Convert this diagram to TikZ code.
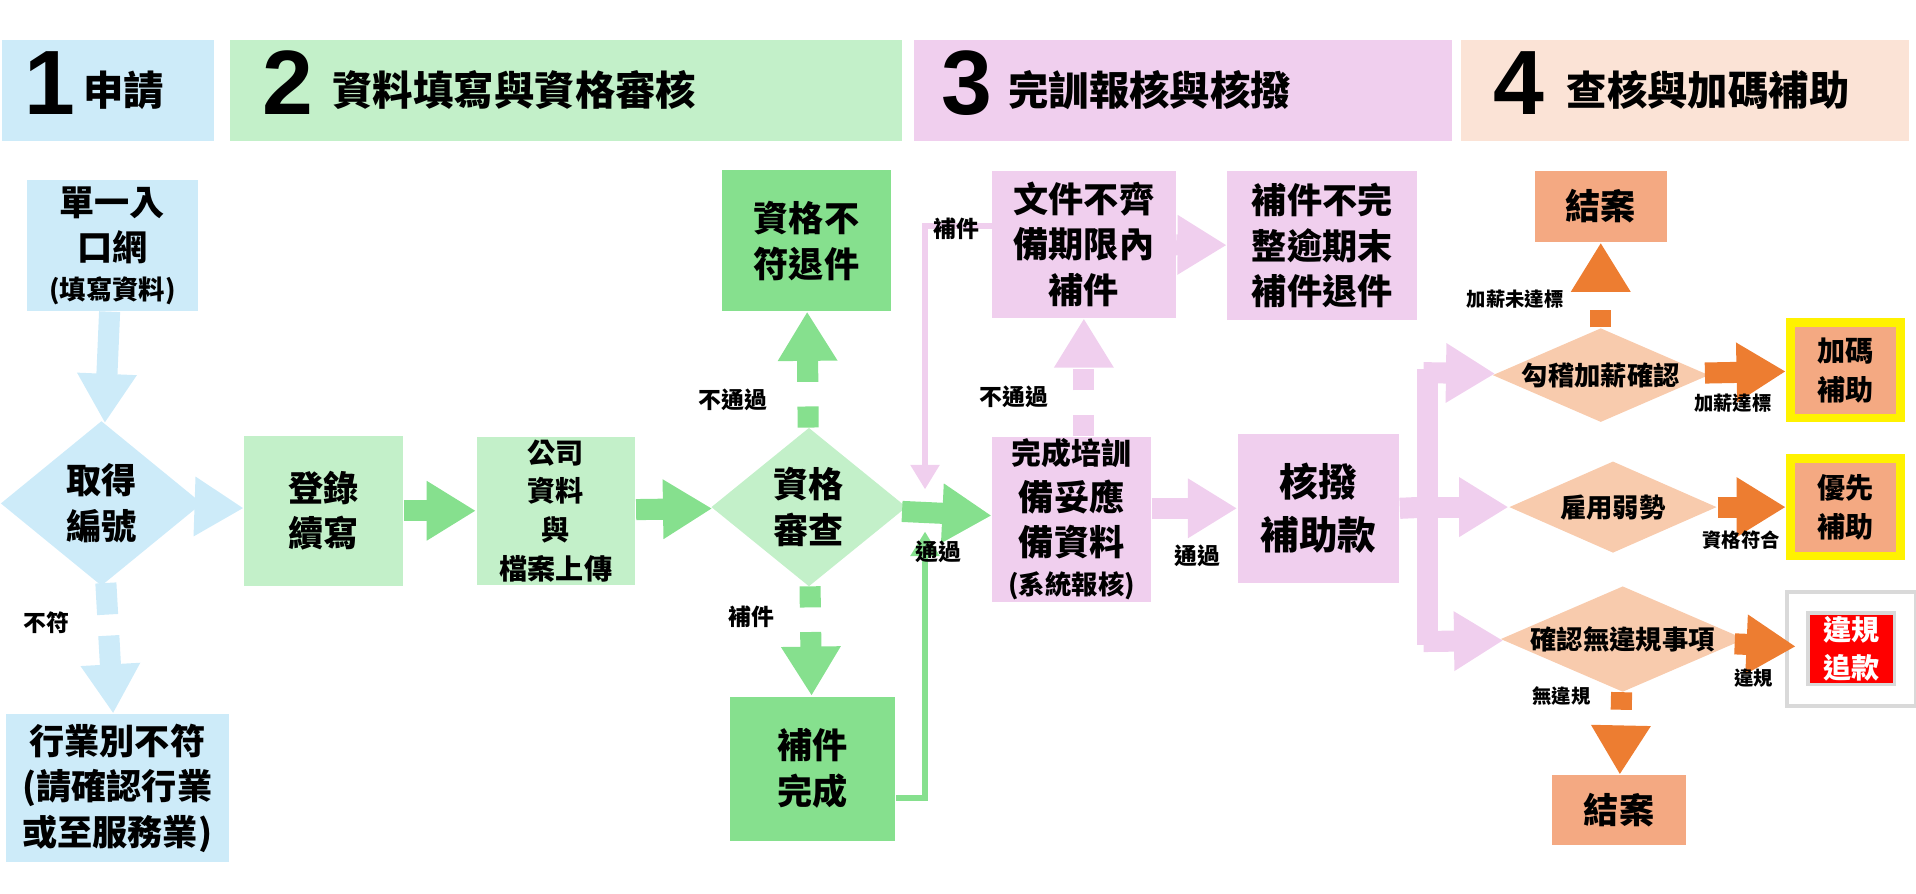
\documentclass[tikz,border=0pt]{standalone}
\usepackage{fontspec}
\setmainfont{Noto Sans CJK TC}
\newfontfamily\numfont{Liberation Sans}
\usetikzlibrary{arrows.meta,shapes.geometric}
\def\pxu{*0.01222cm}
\definecolor{cblue}{HTML}{CDEBF9}
\definecolor{cgreen}{HTML}{C3F0C9}
\definecolor{cdgreen}{HTML}{86E08E}
\definecolor{cpink}{HTML}{F0CFEE}
\definecolor{cpeach}{HTML}{FBE3D6}
\definecolor{csalmon}{HTML}{F4A982}
\definecolor{cdiam}{HTML}{F8CBAD}
\definecolor{corange}{HTML}{ED7D31}
\tikzset{
  box/.style={inner sep=0pt, align=center, font=\bfseries\fontsize{10}{13}\selectfont},
  dia/.style={diamond, aspect=1.2, inner sep=0pt, align=center, font=\bfseries\fontsize{10}{13}\selectfont},
  lbl/.style={font=\bfseries\fontsize{6.5}{8}\selectfont},
  blk/.style={line width=6pt, -{Triangle[length=14pt,width=16pt]}},
  thin/.style={line width=1.6pt, -{Triangle[length=7pt,width=8pt]}},
  hdr/.style={anchor=west, font=\bfseries\fontsize{11.5}{13}\selectfont},
  num/.style={anchor=west, font=\numfont\bfseries\fontsize{26}{26}\selectfont},
}
\begin{document}
\begin{tikzpicture}[x=0.01222cm, y=-0.01222cm]
\useasboundingbox (0,0) rectangle (1568,731);
% headers
\fill[cblue] (2,33) rectangle (175,115);
\fill[cgreen] (188,33) rectangle (738,115);
\fill[cpink] (748,33) rectangle (1188,115);
\fill[cpeach] (1196,33) rectangle (1562,115);
\node[num] (n1) at (10,68) {1};
\node[hdr] (h1) at (58,74) {申請};
\node[num] (n2) at (205,68) {2};
\node[hdr] (h2) at (262,74) {資料填寫與資格審核};
\node[num] (n3) at (760,68) {3};
\node[hdr] (h3) at (815,74) {完訓報核與核撥};
\node[num] (n4) at (1212,68) {4};
\node[hdr] (h4) at (1272,74) {查核與加碼補助};
% stage 1
\node[box, fill=cblue, minimum width=140\pxu, minimum height=107\pxu] (web) at (92,201) {單一入\\口網\\[-2pt]{\fontsize{7.5}{9}\selectfont(填寫資料)}};
\node[dia, fill=cblue, minimum width=165\pxu, minimum height=135\pxu] (num) at (83,412) {取得\\編號};
\node[box, fill=cblue, minimum width=182\pxu, minimum height=121\pxu] (bad) at (96,645) {行業別不符\\(請確認行業\\或至服務業)};
% stage 2
\node[box, fill=cgreen, minimum width=130\pxu, minimum height=123\pxu] (login) at (265,418) {登錄\\續寫};
\node[box, fill=cgreen, minimum width=130\pxu, minimum height=121\pxu, font=\bfseries\fontsize{8}{11}\selectfont] (upl) at (455,418) {公司\\資料\\與\\檔案上傳};
\node[dia, fill=cgreen, minimum width=160\pxu, minimum height=130\pxu] (chk) at (662,415) {資格\\審查};
\node[box, fill=cdgreen, minimum width=139\pxu, minimum height=115\pxu] (rej) at (660,197) {資格不\\符退件};
\node[box, fill=cdgreen, minimum width=135\pxu, minimum height=118\pxu] (fix) at (665,629) {補件\\完成};
% stage 3
\node[box, fill=cpink, minimum width=150\pxu, minimum height=120\pxu] (doc) at (887,200) {文件不齊\\備期限內\\補件};
\node[box, fill=cpink, minimum width=155\pxu, minimum height=122\pxu] (late) at (1082,201) {補件不完\\整逾期末\\補件退件};
\node[box, fill=cpink, minimum width=130\pxu, minimum height=135\pxu] (done) at (877,425) {{\fontsize{8.5}{11}\selectfont 完成培訓}\\備妥應\\備資料\\[-2pt]{\fontsize{7.5}{9}\selectfont(系統報核)}};
\node[box, fill=cpink, minimum width=132\pxu, minimum height=122\pxu, font=\bfseries\fontsize{11}{15}\selectfont] (pay) at (1079,416) {核撥\\補助款};
% stage 4
\node[dia, fill=cdiam, aspect=2.3, minimum width=170\pxu, minimum height=75\pxu, font=\bfseries\fontsize{7.5}{9}\selectfont] (d1) at (1310,307) {勾稽加薪確認};
\node[dia, fill=cdiam, aspect=2.3, minimum width=170\pxu, minimum height=75\pxu, font=\bfseries\fontsize{7.5}{9}\selectfont] (d2) at (1320,415) {雇用弱勢};
\node[dia, fill=cdiam, aspect=2.3, minimum width=200\pxu, minimum height=75\pxu, font=\bfseries\fontsize{7.5}{9}\selectfont] (d3) at (1328,523) {確認無違規事項};
\node[box, fill=csalmon, minimum width=108\pxu, minimum height=58\pxu] (end1) at (1310,169) {結案};
\node[box, fill=csalmon, minimum width=110\pxu, minimum height=57\pxu] (end2) at (1325,663) {結案};
\node[box, fill=csalmon, draw=yellow, line width=2.5pt, minimum width=90\pxu, minimum height=78\pxu, font=\bfseries\fontsize{8}{11}\selectfont] (plus) at (1510,303) {加碼\\補助};
\node[box, fill=csalmon, draw=yellow, line width=2.5pt, minimum width=90\pxu, minimum height=80\pxu, font=\bfseries\fontsize{8}{11}\selectfont] (prio) at (1510,415) {優先\\補助};
\node[box, fill=red, text=white, draw=black!15, line width=1pt, double=white, double distance=5pt, minimum width=88\pxu, minimum height=76\pxu, font=\bfseries\fontsize{8}{11}\selectfont] (back) at (1515,531) {違規\\追款};
% arrows stage 1-2
\draw[blk, cblue] (web) -- (num);
\draw[blk, cblue, dash pattern=on 9pt off 6pt] (num) -- (bad);
\draw[blk, cblue] (num) -- (login);
\draw[blk, cdgreen] (login) -- (upl);
\draw[blk, cdgreen] (upl) -- (chk);
\draw[blk, cdgreen, dash pattern=on 6pt off 7pt] (chk) -- (rej);
\draw[blk, cdgreen, dash pattern=on 6pt off 7pt] (chk) -- (fix);
\draw[blk, cdgreen] (chk) -- (done);
\coordinate (m) at (757,412);
\draw[thin, cdgreen] (fix.east |- 0,653) -| ([yshift=-8]m);
\draw[thin, cpink] (doc.west |- 0,185) -| ([yshift=4]m);
% stage 3
\draw[blk, cpink, dash pattern=on 6pt off 7pt] (done.north -| doc) -- (doc);
\draw[blk, cpink, dash pattern=on 5pt off 6pt] (doc) -- (late);
\draw[blk, cpink] (done.east |- pay) -- (pay);
\coordinate (sp) at (1168,415);
\draw[line width=6pt, cpink] (pay.east) -- (sp);
\draw[line width=6pt, cpink] (1168,302) -- (1168,528);
\draw[blk, cpink] (1165,305) -- (d1);
\draw[blk, cpink] (sp) -- (d2);
\draw[blk, cpink] (1165,525) -- (d3);
% stage 4
\draw[blk, corange, dash pattern=on 5pt off 5pt] (d1) -- (end1);
\draw[blk, corange] (d1) -- (plus);
\draw[blk, corange] (d2) -- (prio);
\draw[blk, corange] (d3) -- (back);
\draw[blk, corange, dash pattern=on 5pt off 5pt] (d3) -- (end2);
% labels
\node[lbl] (l1) at (38,510) {不符};
\node[lbl] (l2) at (600,327) {不通過};
\node[lbl] (l3) at (615,505) {補件};
\node[lbl] (l4) at (768,452) {通過};
\node[lbl] (l5) at (783,187) {補件};
\node[lbl] (l6) at (830,325) {不通過};
\node[lbl] (l7) at (980,455) {通過};
\node[lbl, font=\bfseries\fontsize{5.5}{7}\selectfont] (l8) at (1240,245) {加薪未達標};
\node[lbl, font=\bfseries\fontsize{5.5}{7}\selectfont] (l9) at (1418,330) {加薪達標};
\node[lbl, font=\bfseries\fontsize{5.5}{7}\selectfont] (l10) at (1425,442) {資格符合};
\node[lbl, font=\bfseries\fontsize{5.5}{7}\selectfont] (l11) at (1435,555) {違規};
\node[lbl, font=\bfseries\fontsize{5.5}{7}\selectfont] (l12) at (1278,570) {無違規};
\end{tikzpicture}
\end{document}
